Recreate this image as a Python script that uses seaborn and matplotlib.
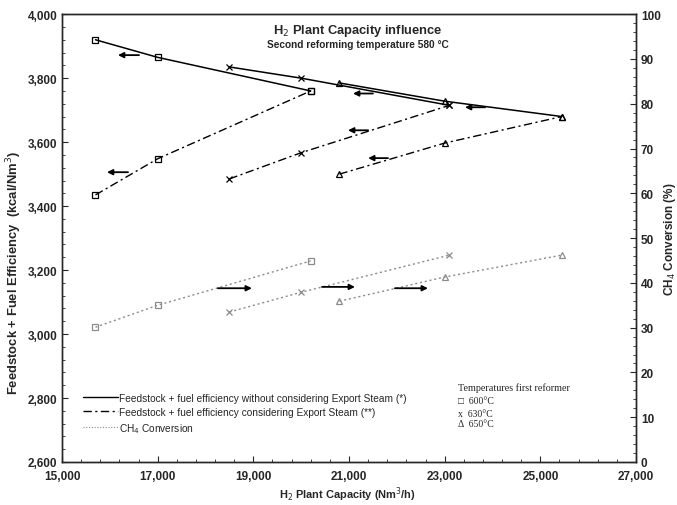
import matplotlib

matplotlib.use("Agg")
import matplotlib.pyplot as plt
import numpy as np
import pandas as pd
import seaborn as sns
from matplotlib.ticker import FixedLocator, FuncFormatter, MultipleLocator

# capacity (Nm3/h) per first-reformer temperature
temps = ["600°C", "630°C", "650°C"]
capacity = {
    "600°C": [15700, 17000, 20200],
    "630°C": [18500, 20000, 23100],
    "650°C": [20800, 23000, 25450],
}
# feedstock + fuel efficiency without export steam (kcal/Nm3)
eff_no_steam = {
    "600°C": [3920, 3865, 3760],
    "630°C": [3835, 3800, 3715],
    "650°C": [3785, 3728, 3680],
}
# feedstock + fuel efficiency with export steam (kcal/Nm3)
eff_steam = {
    "600°C": [3435, 3548, 3760],
    "630°C": [3485, 3567, 3715],
    "650°C": [3500, 3597, 3680],
}
# CH4 conversion (%)
ch4_conv = {
    "600°C": [30.1, 35.0, 44.9],
    "630°C": [33.5, 37.9, 46.2],
    "650°C": [35.9, 41.3, 46.2],
}
markers = {"600°C": "s", "630°C": "x", "650°C": "^"}

# arrows pointing to the left axis: (tail x, head x, y)
left_arrows = [
    (16610, 16170, 3872),
    (21500, 21085, 3752),
    (23845, 23425, 3709),
    (21400, 20980, 3637),
    (21815, 21400, 3550),
    (16380, 15940, 3506),
]
# arrows pointing to the right axis: (tail x, head x, y %)
right_arrows = [
    (18260, 18970, 38.8),
    (20435, 21125, 39.1),
    (21960, 22650, 38.8),
]

x_major = np.arange(15000, 27001, 2000)

rows = []
for t in temps:
    for c, a, b, m in zip(capacity[t], eff_no_steam[t], eff_steam[t], ch4_conv[t]):
        rows.append({"temp": t, "capacity": c, "no_steam": a, "steam": b, "ch4": m})
df = pd.DataFrame(rows)

sns.set_theme(style="ticks")
plt.rcParams["font.family"] = ["Liberation Sans", "DejaVu Sans"]

fig = plt.figure(figsize=(6.77, 5.06), dpi=100)
ax = fig.add_axes([0.0916, 0.085, 0.8478, 0.885])
ax2 = ax.twinx()

dashdot = (0, (6, 2.5, 1.5, 2.5))
for t in temps:
    sub = df[df["temp"] == t]
    mk = markers[t]
    sns.lineplot(data=sub, x="capacity", y="no_steam", ax=ax, color="black", lw=1.1,
                 marker=mk, markersize=5, markerfacecolor="none", markeredgecolor="black",
                 markeredgewidth=0.9, legend=False)
    sns.lineplot(data=sub, x="capacity", y="steam", ax=ax, color="black", lw=1.0,
                 linestyle=dashdot, marker=mk, markersize=5, markerfacecolor="none",
                 markeredgecolor="black", markeredgewidth=0.9, legend=False)
    sns.lineplot(data=sub, x="capacity", y="ch4", ax=ax2, color="#8c8c8c", lw=1.0,
                 linestyle=(0, (1.5, 2)), marker=mk, markersize=5, markerfacecolor="none",
                 markeredgecolor="#8c8c8c", markeredgewidth=0.9, legend=False)

arrow_kw = dict(arrowstyle="-|>", color="black", lw=1.3, mutation_scale=8,
                shrinkA=0, shrinkB=0)
for x0, x1, y in left_arrows:
    ax.annotate("", xy=(x1, y), xytext=(x0, y), arrowprops=arrow_kw)
for x0, x1, y in right_arrows:
    ax2.annotate("", xy=(x1, y), xytext=(x0, y), arrowprops=arrow_kw)

ax.set_xlim(15000, 27000)
ax.set_ylim(2600, 4000)
ax2.set_ylim(0, 100)
ax.xaxis.set_major_locator(FixedLocator(x_major))
ax.xaxis.set_minor_locator(MultipleLocator(400, offset=200))
ax.yaxis.set_major_locator(MultipleLocator(200))
ax.yaxis.set_minor_locator(MultipleLocator(40))
ax2.yaxis.set_major_locator(MultipleLocator(10))
ax2.yaxis.set_minor_locator(MultipleLocator(2))
thousands = FuncFormatter(lambda v, p: f"{v:,.0f}")
ax.xaxis.set_major_formatter(thousands)
ax.yaxis.set_major_formatter(thousands)

for a in (ax, ax2):
    a.tick_params(which="major", direction="in", length=4, width=0.8, labelsize=8.5)
    a.tick_params(which="minor", direction="in", length=2, width=0.6)
    for lab in a.get_xticklabels() + a.get_yticklabels():
        lab.set_fontweight("bold")
    for s in a.spines.values():
        s.set_linewidth(1.0)
ax.tick_params(axis="x", pad=6)

ax.set_xlabel("H$_2$ Plant Capacity (Nm$^3$/h)", fontsize=7.9, fontweight="bold")
ax.xaxis.set_label_coords(0.497, -0.05)
ax.set_ylabel("Feedstock + Fuel Efficiency  (kcal/Nm$^3$)", fontsize=9.4, fontweight="bold")
ax.yaxis.set_label_coords(-0.066, 0.424)
ax2.set_ylabel("CH$_4$ Conversion (%)", fontsize=8.5, fontweight="bold")
ax2.yaxis.set_label_coords(1.046, 0.5)

ax.text(0.5155, 0.964, "H$_2$ Plant Capacity influence", transform=ax.transAxes,
        ha="center", va="center", fontsize=9.3, fontweight="bold")
ax.text(0.5155, 0.933, "Second reforming temperature 580 °C", transform=ax.transAxes,
        ha="center", va="center", fontsize=7.3, fontweight="bold")

handles = [
    plt.Line2D([], [], color="black", lw=1.0),
    plt.Line2D([], [], color="black", lw=1.0, linestyle=dashdot),
    plt.Line2D([], [], color="#8c8c8c", lw=0.8, linestyle=(0, (1, 1.5))),
]
labels = [
    "Feedstock + fuel efficiency without considering Export Steam (*)",
    "Feedstock + fuel efficiency considering Export Steam (**)",
    "CH$_4$ Conversion",
]
ax.legend(handles, labels, loc="lower left", bbox_to_anchor=(0.025, 0.045), frameon=False,
          fontsize=7.3, handlelength=3.4, handletextpad=0.1, labelspacing=0.4,
          borderpad=0.2)

serif = ["Liberation Serif", "DejaVu Serif"]
ax.text(23280, 2834, "Temperatures first reformer", fontsize=7.3, family=serif,
        va="center")
temp_symbols = ["□", "x", "Δ"]
temp_y = [2791, 2753, 2719]
for sym, t, ty in zip(temp_symbols, temps, temp_y):
    ax.text(23280, ty, f"{sym}  {t}", fontsize=7, family=serif, va="center")

fig.savefig("out.png", dpi=100)
